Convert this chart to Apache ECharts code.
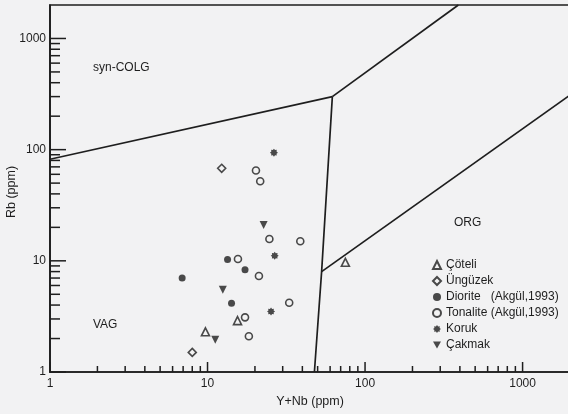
<!DOCTYPE html>
<html><head><meta charset="utf-8">
<script src="https://cdn.jsdelivr.net/npm/echarts@6/dist/echarts.min.js"></script>
<style>html,body{margin:0;padding:0;background:#f2f2f3}#c{width:568px;height:414px}</style>
</head><body><div id="c"></div>
<script>
// Sample groups: [Y+Nb (ppm), Rb (ppm)]
const coteli   = [[9.7, 2.3], [15.5, 2.9], [75, 9.7]];
const unguzek  = [[12.3, 68], [8.0, 1.5]];
const diorite  = [[13.4, 10.3], [17.3, 8.3], [6.9, 7.0], [14.2, 4.15]];
const tonalite = [[20.3, 65], [21.6, 52], [24.7, 15.7], [38.8, 15], [15.6, 10.4],
                  [21.2, 7.3], [33, 4.2], [17.3, 3.1], [18.3, 2.1]];
const koruk    = [[26.4, 94], [26.7, 11.1], [25.3, 3.5]];
const cakmak   = [[22.7, 21], [12.5, 5.5], [11.2, 1.95]];

// Field boundaries (Pearce et al. type discrimination lines)
const colgVag = [[1, 82], [62, 300]];
const colgWpg = [[62, 300], [391, 2000]];
const vagWpg  = [[62, 300], [53, 8], [47.7, 1]];
const wpgOrg  = [[53, 8], [2000, 310]];

// Axis ranges and tick values
const xRange = [1, 2000];
const yRange = [1, 2000];
const majorTicks = [1, 10, 100, 1000];
const minorTicks = [2,3,4,5,6,7,8,9, 20,30,40,50,60,70,80,90, 200,300,400,500,600,700,800,900];

const ink = '#1e1e1e';
const bg = '#f2f2f3';
const font = 'Liberation Sans, Arial, sans-serif';

const starPath = 'path://M2 1 L1.647 1.268 L1.707 1.707 L1.268 1.647 L1 2 L0.732 1.647 L0.293 1.707 L0.353 1.268 L0 1 L0.353 0.732 L0.293 0.293 L0.732 0.353 L1 0 L1.268 0.353 L1.707 0.293 L1.647 0.732 Z';
const downTriangle = 'path://M0 0 L2 0 L1 1.8 Z';

const tickData = [];
majorTicks.forEach(v => { tickData.push([v, 'x', 1]); tickData.push([v, 'y', 1]); });
minorTicks.forEach(v => { tickData.push([v, 'x', 0]); tickData.push([v, 'y', 0]); });

function boundary(data) {
  return { type: 'line', data: data, symbol: 'none', silent: true, z: 3,
           lineStyle: { color: ink, width: 1.7 } };
}

function scatter(name, data, symbol, filled, size) {
  return { type: 'scatter', name: name, data: data, symbol: symbol, symbolSize: size, z: 5,
           itemStyle: filled ? { color: ink } : { color: bg, borderColor: ink, borderWidth: 1.6 } };
}

const chart = echarts.init(document.getElementById('c'));
chart.setOption({
  backgroundColor: bg,
  animation: false,
  grid: { left: 50, top: 5, width: 520, height: 367, containLabel: false, outerBoundsMode: 'none',
          show: true, borderColor: ink, borderWidth: 1.7, backgroundColor: 'transparent' },
  xAxis: {
    type: 'log', logBase: 10, min: xRange[0], max: xRange[1],
    axisLine: { lineStyle: { color: ink, width: 1.7 } },
    axisTick: { show: false }, splitLine: { show: false },
    axisLabel: { color: ink, fontSize: 12, fontFamily: font, margin: 6, showMaxLabel: false,
      formatter: v => majorTicks.includes(Math.round(v)) ? String(Math.round(v)) : '' },
    name: 'Y+Nb (ppm)', nameLocation: 'middle', nameGap: 23, nameMoveOverlap: false,
    nameTextStyle: { color: ink, fontSize: 12.5, fontFamily: font }
  },
  yAxis: {
    type: 'log', logBase: 10, min: yRange[0], max: yRange[1],
    axisLine: { lineStyle: { color: ink, width: 1.7 } },
    axisTick: { show: false }, splitLine: { show: false },
    axisLabel: { color: ink, fontSize: 12, fontFamily: font, margin: 4, showMaxLabel: false,
      formatter: v => majorTicks.includes(Math.round(v)) ? String(Math.round(v)) : '' }
  },
  legend: {
    orient: 'vertical', left: 432, top: 258, padding: 0,
    itemWidth: 8, itemHeight: 8, itemGap: 2,
    textStyle: { color: ink, fontSize: 12, fontFamily: font, lineHeight: 14 },
    data: ['Çöteli', 'Üngüzek', 'Diorite   (Akgül,1993)', 'Tonalite (Akgül,1993)', 'Koruk', 'Çakmak']
  },
  graphic: [
    { type: 'text', x: 12, y: 192, rotation: Math.PI / 2,
      style: { text: 'Rb (ppm)', fill: ink, font: '12.5px ' + font, align: 'center', verticalAlign: 'middle' } },
    { type: 'text', left: 93, top: 62, style: { text: 'syn-COLG', fill: ink, font: '12px ' + font } },
    { type: 'text', left: 93, top: 319, style: { text: 'VAG', fill: ink, font: '12px ' + font } },
    { type: 'text', left: 454, top: 217, style: { text: 'ORG', fill: ink, font: '12px ' + font } }
  ],
  series: [
    {
      type: 'custom', silent: true, z: 4, data: tickData,
      renderItem: function (params, api) {
        const v = api.value(0);
        const axis = tickData[params.dataIndex][1];
        const major = tickData[params.dataIndex][2] === 1;
        if (axis === 'x') {
          const p = api.coord([v, yRange[0]]);
          const len = major ? 10 : 6;
          return { type: 'line', shape: { x1: p[0], y1: p[1], x2: p[0], y2: p[1] - len },
                   style: { stroke: ink, lineWidth: 1.5 } };
        }
        const p = api.coord([xRange[0], v]);
        const len = major ? 16 : 10;
        return { type: 'line', shape: { x1: p[0], y1: p[1], x2: p[0] + len, y2: p[1] },
                 style: { stroke: ink, lineWidth: 1.5 } };
      }
    },
    boundary(colgVag), boundary(colgWpg), boundary(vagWpg), boundary(wpgOrg),
    scatter('Çöteli', coteli, 'triangle', false, 8),
    scatter('Üngüzek', unguzek, 'diamond', false, 8),
    scatter('Diorite   (Akgül,1993)', diorite, 'circle', true, 7),
    scatter('Tonalite (Akgül,1993)', tonalite, 'circle', false, 7),
    scatter('Koruk', koruk, starPath, true, 8),
    scatter('Çakmak', cakmak, downTriangle, true, 8)
  ]
});
</script></body></html>
